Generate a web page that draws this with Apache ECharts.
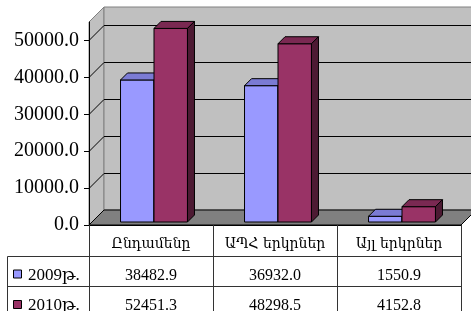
<!DOCTYPE html>
<html><head><meta charset="utf-8">
<script src="https://cdn.jsdelivr.net/npm/echarts@6/dist/echarts.min.js"></script>
<style>html,body{margin:0;padding:0;background:#fff}#c{width:471px;height:311px}</style>
</head><body><div id="c"></div>
<script>
// ---- data ----
const categories = ['Ընդամենը', 'ԱՊՀ երկրներ', 'Այլ երկրներ'];
const seriesNames = ['2009թ.', '2010թ.'];
const values2009 = [38482.9, 36932.0, 1550.9];
const values2010 = [52451.3, 48298.5, 4152.8];
const yTicks = [0, 10000, 20000, 30000, 40000, 50000];
const yMax = 55000;

// ---- style ----
const GRID = {left: 89, right: 10, top: 22, bottom: 86};
const DX = 15, DY = -15;          // wall depth
const BOX = 3, BOY = -3;          // bar front offset
const BD = 7;                     // bar depth
const BAR_FRAC = 0.27;
const SERIF = 'Liberation Serif, DejaVu Serif, serif';
const ARM = 'DejaVu Serif, Liberation Serif, serif';
const barColors = [
  {face: '#9999ff', top: '#7b7bd4', side: '#5c5ca8'},
  {face: '#993366', top: '#7a2952', side: '#4d1a33'}
];

function renderWalls(params, api) {
  const cs = params.coordSys;
  const L = cs.x, R = cs.x + cs.width, T = cs.y, B = cs.y + cs.height;
  const ch = [];
  ch.push({type: 'polygon', shape: {points: [[L, B], [L + DX, B + DY], [L + DX, T + DY], [L, T]]},
    style: {fill: '#c0c0c0', stroke: '#808080', lineWidth: 1}});
  ch.push({type: 'polygon', shape: {points: [[L + DX, T + DY], [R + DX, T + DY], [R + DX, B + DY], [L + DX, B + DY]]},
    style: {fill: '#c0c0c0', stroke: '#808080', lineWidth: 1}});
  ch.push({type: 'polygon', shape: {points: [[L, B], [R, B], [R + DX, B + DY], [L + DX, B + DY]]},
    style: {fill: '#808080', stroke: '#000', lineWidth: 1}});
  yTicks.forEach(function (t) {
    if (t === 0) return;
    const y = Math.round(api.coord([0, t])[1]) + 0.5;
    ch.push({type: 'polyline', shape: {points: [[L, y], [L + DX, y + DY], [R + DX, y + DY]]},
      style: {stroke: '#000', lineWidth: 1, fill: null}});
  });
  return {type: 'group', children: ch};
}

function makeBarRender(si) {
  return function (params, api) {
    const i = api.value(0), v = api.value(1);
    const top = api.coord([i, v]);
    const base = api.coord([i, 0]);
    const band = api.size([1, 0])[0];
    const w = band * BAR_FRAC;
    const x0 = (si === 0 ? top[0] - w : top[0]) + BOX;
    const x1 = x0 + w;
    const yt = top[1] + BOY, yb = base[1] + BOY;
    const c = barColors[si];
    const st = function (f) { return {fill: f, stroke: '#000', lineWidth: 1}; };
    return {type: 'group', children: [
      {type: 'polygon', shape: {points: [[x0, yb], [x1, yb], [x1, yt], [x0, yt]]}, style: st(c.face)},
      {type: 'polygon', shape: {points: [[x0, yt], [x1, yt], [x1 + BD, yt - BD], [x0 + BD, yt - BD]]}, style: st(c.top)},
      {type: 'polygon', shape: {points: [[x1, yt], [x1 + BD, yt - BD], [x1 + BD, yb - BD], [x1, yb]]}, style: st(c.side)}
    ]};
  };
}

const chart = echarts.init(document.getElementById('c'), null, {renderer: 'canvas'});
const option = {
  animation: false,
  backgroundColor: '#fff',
  grid: {left: GRID.left, right: GRID.right, top: GRID.top, bottom: GRID.bottom, containLabel: false},
  xAxis: {type: 'category', data: categories, boundaryGap: true,
    axisLine: {show: true, lineStyle: {color: '#000', width: 1}}, axisTick: {show: false}, axisLabel: {show: false}, splitLine: {show: false}, z: 10},
  yAxis: {type: 'value', min: 0, max: yMax, interval: 10000,
    axisLine: {show: true, lineStyle: {color: '#000', width: 1}},
    axisTick: {show: true, length: 5, lineStyle: {color: '#000'}},
    splitLine: {show: false},
    axisLabel: {margin: 10, color: '#000', fontFamily: 'Liberation Serif', fontSize: 20, showMaxLabel: false,
      formatter: function (v) { return yTicks.indexOf(v) >= 0 ? v.toFixed(1) : ''; }},
    z: 10},
  series: [
    {type: 'custom', name: 'walls', renderItem: renderWalls, data: [[0, 0]], z: 1, silent: true},
    {type: 'custom', name: seriesNames[0], renderItem: makeBarRender(0), data: values2009.map(function (v, i) { return [i, v]; }), z: 2},
    {type: 'custom', name: seriesNames[1], renderItem: makeBarRender(1), data: values2010.map(function (v, i) { return [i, v]; }), z: 3}
  ]
};
chart.setOption(option);

// ---- data table ----
(function () {
  const H = 311;
  const L = GRID.left, B = H - GRID.bottom;
  const xs = categories.map(function (_, i) { return chart.convertToPixel({xAxisIndex: 0}, i); });
  const band = xs.length > 1 ? xs[1] - xs[0] : 124;
  const R = xs[xs.length - 1] + band / 2;
  const rowH = 30.5;
  const legL = 7.5;
  const g = [];
  const line = function (x1, y1, x2, y2) {
    g.push({type: 'line', shape: {x1: x1, y1: y1, x2: x2, y2: y2}, style: {stroke: '#333', lineWidth: 1}, z: 20});
  };
  const r1 = Math.round(B + rowH) + 0.5, r2 = Math.round(B + 2 * rowH) + 0.5;
  line(legL, r1, R, r1);
  line(legL, r2, R, r2);
  line(legL, r1, legL, H);
  for (let k = 1; k <= categories.length; k++) {
    const x = Math.round(L + k * band) + 0.5;
    line(x, B, x, H);
  }
  line(L + 0.5, B, L + 0.5, H);
  categories.forEach(function (c, i) {
    g.push({type: 'text', x: xs[i], y: B + 19, z: 21,
      style: {text: c, fill: '#000', font: '14px ' + ARM, align: 'center', verticalAlign: 'middle'}});
  });
  const rows = [values2009, values2010];
  rows.forEach(function (vals, r) {
    const yc = B + rowH * (r + 1) + 20;
    vals.forEach(function (v, i) {
      g.push({type: 'text', x: xs[i], y: yc, z: 21,
        style: {text: v.toFixed(1), fill: '#000', font: '16px ' + SERIF, align: 'center', verticalAlign: 'middle'}});
    });
    g.push({type: 'rect', shape: {x: 13.5, y: yc - 5.5, width: 8, height: 8}, z: 21,
      style: {fill: barColors[r].face, stroke: '#000', lineWidth: 1}});
    g.push({type: 'text', x: 28, y: yc, z: 21,
      style: {text: seriesNames[r], fill: '#000', font: '17px ' + SERIF, align: 'left', verticalAlign: 'middle'}});
  });
  chart.setOption({graphic: {elements: g}});
})();
</script>
</body></html>
